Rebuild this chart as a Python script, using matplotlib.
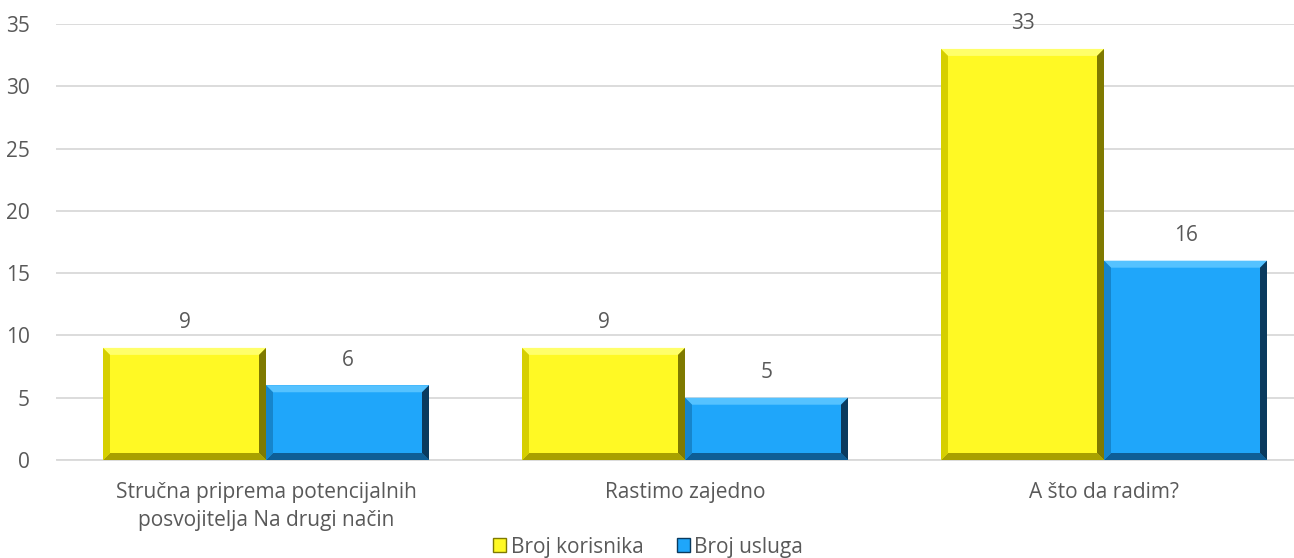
import matplotlib.pyplot as plt
import numpy as np
from matplotlib.patches import Polygon, Patch

plt.rcParams['font.family'] = ['Open Sans', 'DejaVu Sans']

categories = ['Stručna priprema potencijalnih\nposvojitelja Na drugi način',
              'Rastimo zajedno', 'A što da radim?']
korisnici = [9, 9, 33]
usluge = [6, 5, 16]
series_names = ['Broj korisnika', 'Broj usluga']

yellow = {'face': '#FFF924', 'top': '#FFFF6A', 'left': '#D6CF00', 'right': '#7F7A00', 'bottom': '#A8A100'}
blue = {'face': '#1FA6FA', 'top': '#55C2FF', 'left': '#1685CC', 'right': '#0A3A5E', 'bottom': '#0E5E96'}

W, H = 1294, 558
fig = plt.figure(figsize=(W / 100, H / 100), dpi=100)
ax = fig.add_axes([56.5 / W, 1 - 460 / H, (W - 56.5) / W, 436 / H])

x = np.arange(len(categories))
bw = 163 / 419

b1 = ax.bar(x - bw / 2, korisnici, bw, color=yellow['face'], zorder=3)
b2 = ax.bar(x + bw / 2, usluge, bw, color=blue['face'], zorder=3)

ax.set_ylim(0, 35)
ax.set_xlim(-0.5, (W - 56.5) / 419 - 0.5)

# bevel edges
px_x = 1 / 419
px_y = 35 / 436
bev = 7


def bevel(bars, col):
    for r in bars:
        x0, y0 = r.get_x(), r.get_y()
        x1, y1 = x0 + r.get_width(), y0 + r.get_height()
        dx, dy = bev * px_x, bev * px_y
        sides = {
            'top': [(x0, y1), (x1, y1), (x1 - dx, y1 - dy), (x0 + dx, y1 - dy)],
            'bottom': [(x0, y0), (x1, y0), (x1 - dx, y0 + dy), (x0 + dx, y0 + dy)],
            'left': [(x0, y0), (x0, y1), (x0 + dx, y1 - dy), (x0 + dx, y0 + dy)],
            'right': [(x1, y0), (x1, y1), (x1 - dx, y1 - dy), (x1 - dx, y0 + dy)],
        }
        for k, pts in sides.items():
            ax.add_patch(Polygon(pts, closed=True, facecolor=col[k], edgecolor='none', zorder=4))


bevel(b1, yellow)
bevel(b2, blue)

fs = 15
txt = '#595959'
for bars, vals in ((b1, korisnici), (b2, usluge)):
    for r, v in zip(bars, vals):
        ax.annotate(str(v), (r.get_x() + r.get_width() / 2, v), xytext=(0, 18),
                    textcoords='offset points', ha='center', va='center',
                    fontsize=fs, color=txt)

ax.set_yticks(range(0, 36, 5))
ax.set_xticks(x)
ax.set_xticklabels(categories, fontsize=fs, color=txt, linespacing=1.45)
ax.tick_params(axis='y', length=0, labelsize=fs, labelcolor=txt, pad=19)
ax.tick_params(axis='x', length=0, pad=16)
ax.grid(axis='y', color='#D9D9D9', linewidth=1.3, zorder=0)
for s in ('top', 'right', 'left'):
    ax.spines[s].set_visible(False)
ax.spines['bottom'].set_color('#D9D9D9')
ax.spines['bottom'].set_linewidth(1.3)

handles = [Patch(facecolor=yellow['face'], edgecolor=yellow['right'], label=series_names[0]),
           Patch(facecolor=blue['face'], edgecolor=blue['right'], label=series_names[1])]
fig.legend(handles=handles, loc='center', bbox_to_anchor=(648 / W, 1 - 547 / H), ncol=2,
           frameon=False, fontsize=fs, handlelength=0.65, handleheight=0.65,
           handletextpad=0.2, columnspacing=1.6, labelcolor=txt)

fig.savefig('out.png', dpi=100)
